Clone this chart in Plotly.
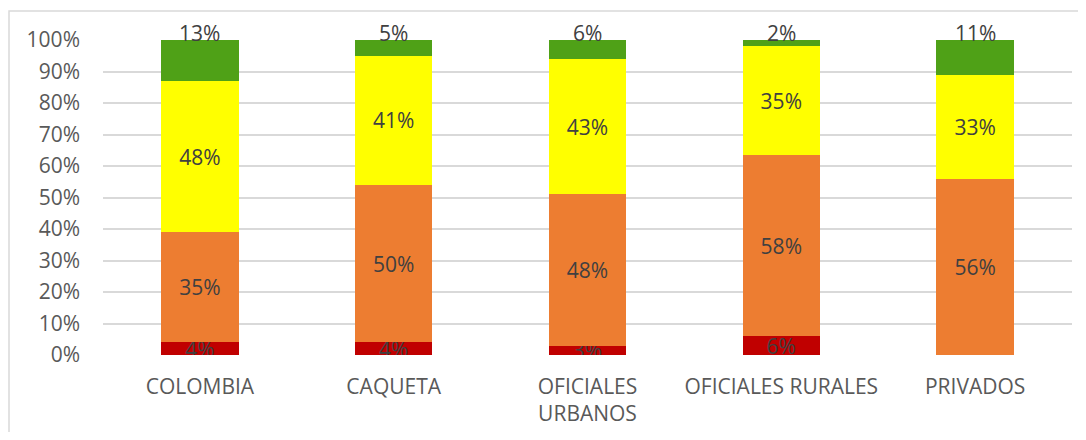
import plotly.graph_objects as go

categories = ["COLOMBIA", "CAQUETA", "OFICIALES<br>URBANOS", "OFICIALES RURALES", "PRIVADOS"]
red_vals = [4, 4, 3, 6, 0]
orange_vals = [35, 50, 48, 58, 56]
yellow_vals = [48, 41, 43, 35, 33]
green_vals = [13, 5, 6, 2, 11]
y_ticks = [0, 10, 20, 30, 40, 50, 60, 70, 80, 90, 100]
y_tick_labels = [f"{v}%" for v in y_ticks]

FONT = "Open Sans"
LABEL_COLOR = "#404040"
AXIS_COLOR = "#595959"
FS = 21

def lbl(vals):
    return [f"{v}%" if v > 0 else "" for v in vals]

fig = go.Figure()
series = [
    ("red", red_vals, "#C00000", True),
    ("orange", orange_vals, "#ED7D31", True),
    ("yellow", yellow_vals, "#FFFF00", True),
    ("green", green_vals, "#4FA117", False),
]
for name, vals, color, show in series:
    fig.add_trace(go.Bar(
        x=categories, y=vals, name=name,
        marker=dict(color=color, line=dict(width=0)),
        text=lbl(vals) if show else None,
        textposition="inside" if show else "none",
        insidetextanchor="middle",
        constraintext="none",
        textfont=dict(family=FONT, size=FS, color=LABEL_COLOR),
        hoverinfo="skip",
    ))

# green labels near the top of each bar
for c, v in zip(categories, green_vals):
    fig.add_annotation(x=c, y=100, text=f"{v}%", showarrow=False,
                       yanchor="middle", yshift=7,
                       font=dict(family=FONT, size=FS, color=LABEL_COLOR))

fig.update_layout(
    barmode="stack", barnorm="percent", bargap=0.6,
    width=1070, height=424,
    margin=dict(l=95, r=6, t=32, b=77),
    paper_bgcolor="white", plot_bgcolor="white",
    showlegend=False,
    font=dict(family=FONT, size=FS, color=AXIS_COLOR),
    uniformtext=dict(mode=False),
)
fig.update_xaxes(showline=False, showgrid=False, zeroline=False,
                 tickfont=dict(family=FONT, size=FS, color=AXIS_COLOR),
                 ticklabelstandoff=17)
fig.update_yaxes(range=[0, 100], tickvals=y_ticks, ticktext=y_tick_labels,
                 showgrid=True, gridcolor="#D9D9D9", gridwidth=1.5,
                 zeroline=False, showline=False,
                 tickfont=dict(family=FONT, size=FS, color=AXIS_COLOR),
                 ticklabelstandoff=22)

# chart outer border (top and left visible)
fig.add_shape(type="rect", xref="paper", yref="paper",
              x0=-0.097, x1=1.05, y0=-0.4, y1=1.092,
              line=dict(color="#D9D9D9", width=1.5), layer="below")

fig.write_html("out.html")
